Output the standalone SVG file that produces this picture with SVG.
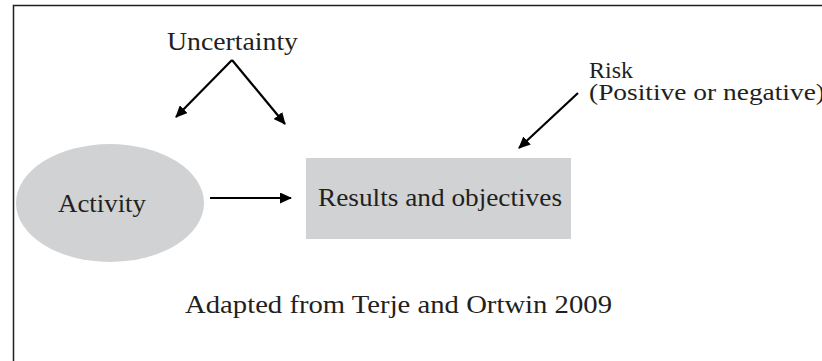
<svg xmlns="http://www.w3.org/2000/svg" width="822" height="361" viewBox="0 0 822 361">
<defs>
<style>
text{font-family:"Liberation Serif","Times New Roman",serif;fill:#231f20;font-size:25px}
.sm{font-size:24px}
.ln{stroke:#000;stroke-width:2.2;fill:none}
</style>
<marker id="ah" viewBox="0 0 12 11" refX="11" refY="5.5" markerWidth="5.5" markerHeight="5" orient="auto" markerUnits="strokeWidth">
<path d="M0,0 L12,5.5 L0,11 Z" fill="#000"/>
</marker>
</defs>
<rect width="822" height="361" fill="#fff"/>
<path d="M13.5,361 V5.5 H822" stroke="#231f20" stroke-width="1.5" fill="none"/>
<g id="activity">
<ellipse cx="110" cy="203" rx="94" ry="59" fill="#d1d2d4"/>
<text x="58" y="212" textLength="88" lengthAdjust="spacingAndGlyphs">Activity</text>
</g>
<g id="results">
<rect x="306" y="158" width="265" height="81" fill="#d1d2d4"/>
<text x="318" y="206" textLength="244" lengthAdjust="spacingAndGlyphs">Results and objectives</text>
</g>
<g id="uncertainty">
<text x="167" y="50" textLength="131" lengthAdjust="spacingAndGlyphs">Uncertainty</text>
</g>
<g id="risk">
<text class="sm" x="589" y="78">Risk</text>
<text class="sm" x="589" y="100" textLength="236" lengthAdjust="spacingAndGlyphs">(Positive or negative)</text>
</g>
<g id="caption">
<text x="185" y="313" textLength="427" lengthAdjust="spacingAndGlyphs">Adapted from Terje and Ortwin 2009</text>
</g>
<g id="connectors">
<line class="ln" x1="210" y1="198" x2="291" y2="198" marker-end="url(#ah)"/>
<line class="ln" x1="232" y1="60" x2="176" y2="117" marker-end="url(#ah)"/>
<line class="ln" x1="232" y1="60" x2="285" y2="124" marker-end="url(#ah)"/>
<line class="ln" x1="578" y1="93" x2="519" y2="148" marker-end="url(#ah)"/>
</g>
</svg>
